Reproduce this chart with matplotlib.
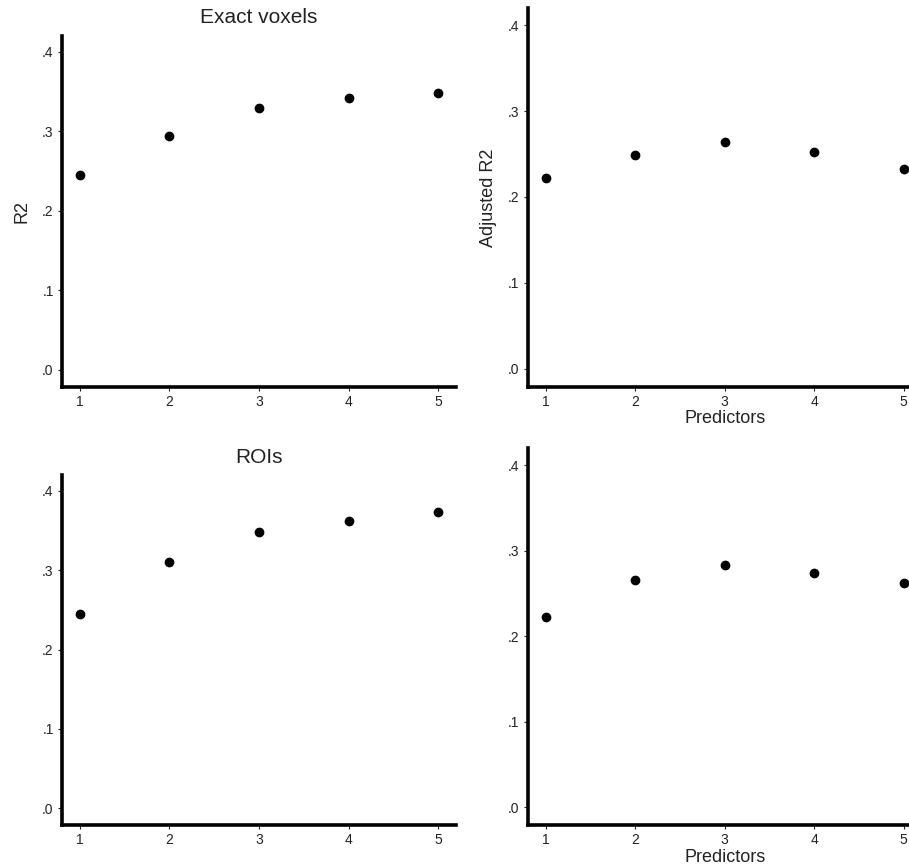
import matplotlib.pyplot as plt
from matplotlib.ticker import FuncFormatter

plt.rcParams['font.family'] = ['Liberation Sans', 'DejaVu Sans']

predictors = [1, 2, 3, 4, 5]
r2_voxels = [0.245, 0.294, 0.330, 0.342, 0.348]
adj_r2_voxels = [0.222, 0.249, 0.264, 0.252, 0.232]
r2_rois = [0.245, 0.310, 0.348, 0.362, 0.373]
adj_r2_rois = [0.222, 0.266, 0.283, 0.274, 0.262]
y_ticks = [0.0, 0.1, 0.2, 0.3, 0.4]

W, H = 909, 868


def frac(x0, y0, x1, y1):
    # pixel box (top-left origin) -> figure fraction
    return [x0 / W, (H - y1) / H, (x1 - x0) / W, (y1 - y0) / H]


def dot_fmt(v, pos):
    s = "%.1f" % v
    return s[1:] if s.startswith("0") else s


def panel(ax, y, title=None, ylabel=None, xlabel=None):
    ax.scatter(predictors, y, s=36, color='black', zorder=3, clip_on=False)
    ax.set_xlim(0.8, 5.2)
    ax.set_ylim(-0.021, 0.42)
    ax.set_xticks(predictors)
    ax.set_yticks(y_ticks)
    ax.yaxis.set_major_formatter(FuncFormatter(dot_fmt))
    for side in ('top', 'right'):
        ax.spines[side].set_visible(False)
    for side in ('left', 'bottom'):
        ax.spines[side].set_linewidth(2.6)
        ax.spines[side].set_color('black')
    ax.tick_params(length=3, width=0.8, labelsize=10, colors='#222222', pad=3)
    if title:
        ax.set_title(title, fontsize=15, pad=9, color='#222222')
    if ylabel:
        ax.set_ylabel(ylabel, fontsize=13, color='#222222', labelpad=8)
    if xlabel:
        ax.set_xlabel(xlabel, fontsize=13, color='#222222', labelpad=1)


fig = plt.figure(figsize=(W / 100, H / 100), dpi=100)

ax1 = fig.add_axes(frac(62, 36, 456, 386.7))
panel(ax1, r2_voxels, title='Exact voxels', ylabel='R2')

ax2 = fig.add_axes(frac(527.7, 8, 921.7, 386.7))
panel(ax2, adj_r2_voxels, ylabel='Adjusted R2', xlabel='Predictors')

ax3 = fig.add_axes(frac(62, 475, 456, 825))
panel(ax3, r2_rois, title='ROIs')

ax4 = fig.add_axes(frac(527.7, 448, 921.7, 825))
panel(ax4, adj_r2_rois, xlabel='Predictors')

fig.savefig('out.png', dpi=100)
